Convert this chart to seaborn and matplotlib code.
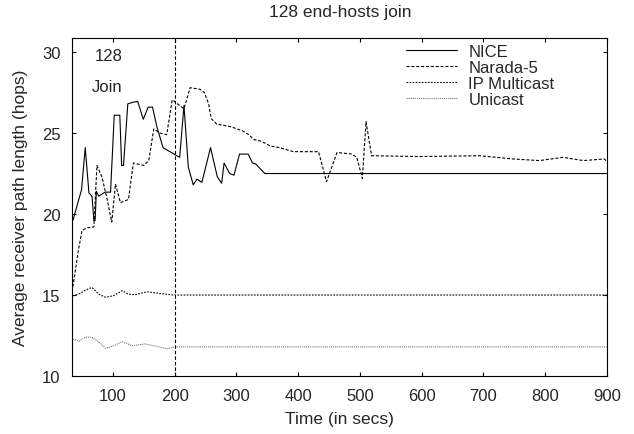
import numpy as np
import pandas as pd
import seaborn as sns
import matplotlib.pyplot as plt

# Data
nice_t = [35, 49, 55, 61, 66, 69, 71, 73, 77, 87, 96, 102, 111, 114, 117, 124, 132, 140, 149, 157,
          164, 171, 181, 208, 215, 222, 230, 236, 244, 258, 269, 276, 280, 289, 296, 305, 319, 326, 331, 346,
          900]
nice_v = [19.6, 21.5, 24.1, 21.3, 21.1, 19.6, 19.6, 21.4, 21.1, 21.35, 21.35, 26.1, 26.1, 23.0, 23.0, 26.8, 26.9, 26.95, 25.85, 26.6,
          26.6, 25.4, 24.1, 23.5, 26.7, 22.9, 21.8, 22.15, 21.95, 24.1, 22.3, 21.9, 23.15, 22.5, 22.4, 23.7, 23.7, 23.15, 23.1, 22.5,
          22.5]

narada_t = [35, 44, 50, 58, 69, 74, 82, 90, 98, 104, 112, 125, 133, 150, 158, 166, 176, 187, 196, 215,
            225, 241, 248, 255, 259, 268, 290, 309, 320, 328, 340, 355, 370, 392, 433, 446, 463, 487, 495, 504,
            510, 519, 597, 694, 748, 791, 829, 862, 896, 900]
narada_v = [15.5, 17.8, 19.0, 19.15, 19.2, 23.0, 22.3, 21.0, 19.5, 21.85, 20.7, 20.9, 23.15, 23.0, 23.3, 25.25, 25.0, 24.9, 27.05, 26.5,
            27.8, 27.7, 27.5, 26.8, 25.9, 25.55, 25.4, 25.15, 24.9, 24.6, 24.5, 24.2, 24.1, 23.85, 23.85, 22.0, 23.8, 23.7, 23.5, 22.2,
            25.7, 23.6, 23.55, 23.6, 23.4, 23.3, 23.5, 23.3, 23.4, 23.25]

ipm_t = [35, 47, 55, 66, 77, 88, 101, 115, 125, 136, 155, 171, 198, 900]
ipm_v = [14.95, 15.1, 15.3, 15.47, 15.05, 14.86, 14.96, 15.27, 15.05, 15.02, 15.2, 15.12, 15.0, 15.0]

uni_t = [35, 45, 55, 66, 77, 88, 101, 115, 131, 152, 171, 187, 201, 900]
uni_v = [12.28, 12.15, 12.4, 12.39, 12.1, 11.71, 11.87, 12.12, 11.87, 11.98, 11.83, 11.67, 11.8, 11.8]

x_ticks = [100, 200, 300, 400, 500, 600, 700, 800, 900]
y_ticks = [10, 15, 20, 25, 30]

sns.set_style('ticks')
plt.rcParams['font.family'] = ['Liberation Sans', 'DejaVu Sans']
plt.rcParams['lines.scale_dashes'] = False
plt.rcParams['xtick.direction'] = 'in'
plt.rcParams['ytick.direction'] = 'in'
plt.rcParams['xtick.top'] = True
plt.rcParams['ytick.right'] = True

fig, ax = plt.subplots(figsize=(6.34, 4.35), dpi=100)
fig.subplots_adjust(left=0.114, right=0.957, bottom=0.1333, top=0.9097)

series = [
    ('NICE', nice_t, nice_v, 'black', '-'),
    ('Narada-5', narada_t, narada_v, 'black', (0, (2.2, 1.3))),
    ('IP Multicast', ipm_t, ipm_v, 'black', (0, (1.2, 1.0))),
    ('Unicast', uni_t, uni_v, '#707070', (0, (0.75, 0.75))),
]
for name, t, v, c, ls in series:
    df = pd.DataFrame({'time': t, 'len': v})
    sns.lineplot(data=df, x='time', y='len', ax=ax, color=c, linestyle=ls,
                 linewidth=0.8, label=name)

# join marker at t = 200
ax.axvline(200, color='black', linewidth=0.8, linestyle=(0, (2.5, 1.5)))
ax.text(116, 29.8, '128', ha='right', va='center', fontsize=12)
ax.text(116, 27.9, 'Join', ha='right', va='center', fontsize=12)

ax.set_xlim(34, 900)
ax.set_ylim(10, 30.85)
ax.set_xticks(x_ticks)
ax.set_yticks(y_ticks)
ax.tick_params(labelsize=12, length=3.2, width=0.8, pad=8.5, color='black')
for s in ax.spines.values():
    s.set_linewidth(0.8)
    s.set_color('black')

ax.set_xlabel('Time (in secs)', fontsize=12.5)
ax.set_ylabel('Average receiver path length (hops)', fontsize=12.5)
ax.xaxis.set_label_coords(0.5, -0.104)
ax.yaxis.set_label_coords(-0.082, 0.5)
fig.suptitle('128 end-hosts join', x=0.536, y=1 - 12.5 / 435, va='center', fontsize=12.5)

ax.legend(loc='upper left', bbox_to_anchor=(0.624, 0.983), frameon=False,
          fontsize=12, handlelength=3.1, handletextpad=0.65, labelspacing=0.05,
          borderpad=0, borderaxespad=0)

fig.savefig('out.png', dpi=100)
